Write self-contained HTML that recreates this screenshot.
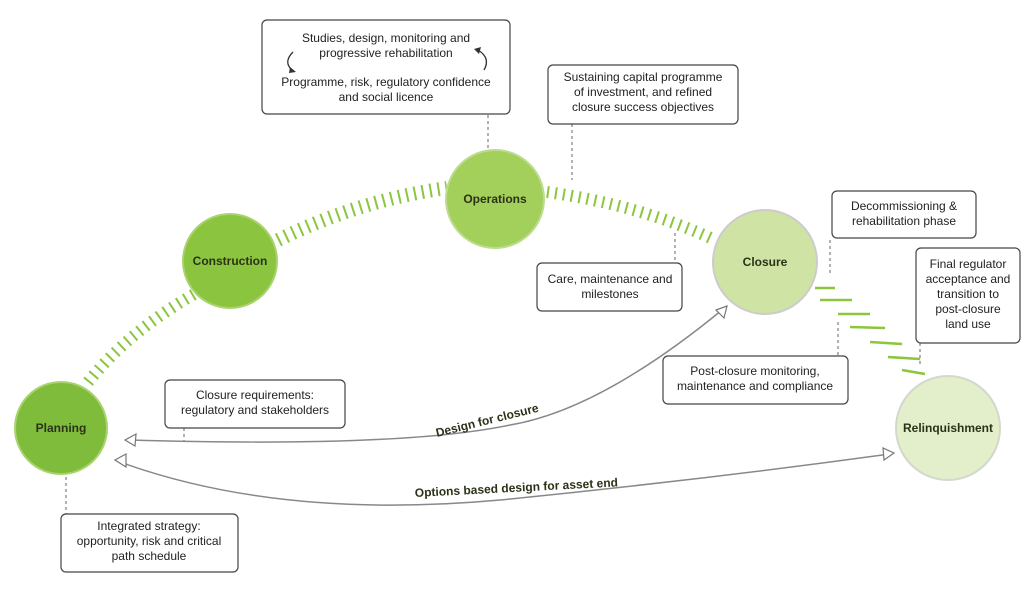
<!DOCTYPE html>
<html><head><meta charset="utf-8"><style>
html,body{margin:0;padding:0;background:#fff;}
svg{display:block;font-family:"Liberation Sans",sans-serif;}
.bx{fill:#fff;stroke:#444;stroke-width:1.2;}
.t{font-size:12px;fill:#222;text-anchor:middle;}
.c{font-size:12px;font-weight:bold;fill:#2a3318;text-anchor:middle;}
.d{stroke:#666;stroke-width:1;stroke-dasharray:3 3;}
.h{fill:none;stroke:#8cc63f;stroke-dasharray:2 6;}
.a{fill:none;stroke:#888;stroke-width:1.5;}
.ah{fill:#fff;stroke:#777;stroke-width:1.2;}
</style></head><body>
<svg width="1029" height="590" viewBox="0 0 1029 590">
<!-- hatching -->
<path class="h" d="M88 382 Q130 330 198 292" stroke-width="12" stroke-dasharray="2 7"/>
<path class="h" d="M278 240 Q360 200 447 188" stroke-width="14" stroke-dasharray="2.5 9"/>
<path class="h" d="M547 192 Q640 205 715 240" stroke-width="12" stroke-dasharray="4 8"/>
<g stroke="#8cc63f" stroke-width="2.5">
<line x1="815" y1="288" x2="835" y2="288"/><line x1="820" y1="300" x2="852" y2="300"/>
<line x1="838" y1="314" x2="870" y2="314"/><line x1="850" y1="327" x2="885" y2="328"/>
<line x1="870" y1="342" x2="902" y2="344"/><line x1="888" y1="357" x2="920" y2="359"/>
<line x1="902" y1="370" x2="925" y2="374"/>
</g>
<!-- dashed connectors -->
<line class="d" x1="488" y1="115" x2="488" y2="148"/>
<line class="d" x1="572" y1="124" x2="572" y2="180"/>
<line class="d" x1="675" y1="233" x2="675" y2="263"/>
<line class="d" x1="830" y1="240" x2="830" y2="276"/>
<line class="d" x1="838" y1="322" x2="838" y2="355"/>
<line class="d" x1="920" y1="343" x2="920" y2="366"/>
<line class="d" x1="184" y1="428" x2="184" y2="442"/>
<line class="d" x1="66" y1="477" x2="66" y2="514"/>
<!-- circles -->
<circle cx="61" cy="428" r="46" fill="#80bc3c" stroke="#a9d36f" stroke-width="2"/>
<circle cx="230" cy="261" r="47" fill="#8bc43f" stroke="#a9d36f" stroke-width="2"/>
<circle cx="495" cy="199" r="49" fill="#a3cf5b" stroke="#bddc8e" stroke-width="2"/>
<circle cx="765" cy="262" r="52" fill="#cfe3a4" stroke="#ccc" stroke-width="2"/>
<circle cx="948" cy="428" r="52" fill="#e3eecb" stroke="#d4d8cc" stroke-width="2"/>
<text class="c" x="61" y="432">Planning</text>
<text class="c" x="230" y="265">Construction</text>
<text class="c" x="495" y="203">Operations</text>
<text class="c" x="765" y="266">Closure</text>
<text class="c" x="948" y="432">Relinquishment</text>
<!-- arrows -->
<path class="a" d="M722 310 Q600 410 510 425 Q400 448 130 440"/>
<path class="a" d="M120 462 Q280 520 500 500 Q700 480 890 454"/>
<polygon class="ah" points="125,440 136,434 135,446"/>
<polygon class="ah" points="727,306 716,310 724,318"/>
<polygon class="ah" points="115,460 126,454 126,467"/>
<polygon class="ah" points="894,453 883,448 884,460"/>
<text font-size="12" font-weight="bold" fill="#2a3318" transform="translate(437,437) rotate(-14)">Design for closure</text>
<text font-size="12" font-weight="bold" fill="#2a3318" transform="translate(415,497) rotate(-3)">Options based design for asset end</text>
<!-- boxes -->
<rect class="bx" x="262" y="20" width="248" height="94" rx="5"/>
<text class="t" x="386" y="42">Studies, design, monitoring and</text>
<text class="t" x="386" y="57">progressive rehabilitation</text>
<text class="t" x="386" y="86">Programme, risk, regulatory confidence</text>
<text class="t" x="386" y="101">and social licence</text>
<path d="M293 52 Q283 62 292 70" fill="none" stroke="#333" stroke-width="1.3"/>
<polygon points="290,67 296,72 289,73" fill="#333"/>
<path d="M478 50 Q491 58 484 70" fill="none" stroke="#333" stroke-width="1.3"/>
<polygon points="474,49 481,47 479,54" fill="#333"/>
<rect class="bx" x="548" y="65" width="190" height="59" rx="5"/>
<text class="t" x="643" y="81">Sustaining capital programme</text>
<text class="t" x="643" y="96">of investment, and refined</text>
<text class="t" x="643" y="111">closure success objectives</text>
<rect class="bx" x="832" y="191" width="144" height="47" rx="5"/>
<text class="t" x="904" y="210">Decommissioning &amp;</text>
<text class="t" x="904" y="225">rehabilitation phase</text>
<rect class="bx" x="916" y="248" width="104" height="95" rx="5"/>
<text class="t" x="968" y="268">Final regulator</text>
<text class="t" x="968" y="283">acceptance and</text>
<text class="t" x="968" y="298">transition to</text>
<text class="t" x="968" y="313">post-closure</text>
<text class="t" x="968" y="328">land use</text>
<rect class="bx" x="537" y="263" width="145" height="48" rx="5"/>
<text class="t" x="610" y="283">Care, maintenance and</text>
<text class="t" x="610" y="298">milestones</text>
<rect class="bx" x="663" y="356" width="185" height="48" rx="5"/>
<text class="t" x="755" y="375">Post-closure monitoring,</text>
<text class="t" x="755" y="390">maintenance and compliance</text>
<rect class="bx" x="165" y="380" width="180" height="48" rx="5"/>
<text class="t" x="255" y="399">Closure requirements:</text>
<text class="t" x="255" y="414">regulatory and stakeholders</text>
<rect class="bx" x="61" y="514" width="177" height="58" rx="5"/>
<text class="t" x="149" y="530">Integrated strategy:</text>
<text class="t" x="149" y="545">opportunity, risk and critical</text>
<text class="t" x="149" y="560">path schedule</text>
</svg>
</body></html>
